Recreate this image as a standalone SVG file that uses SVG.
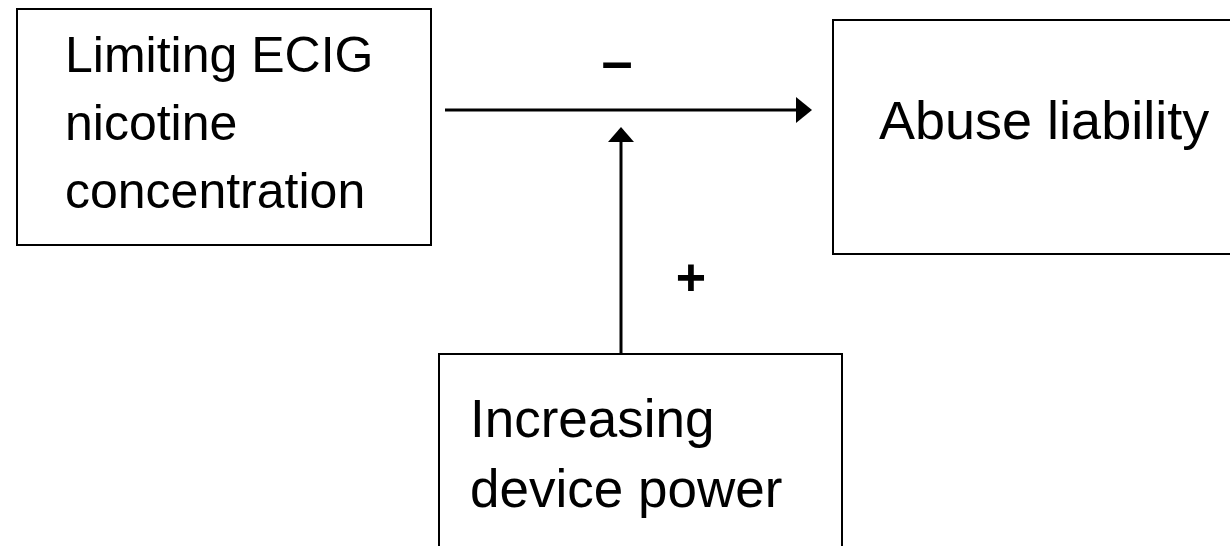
<svg xmlns="http://www.w3.org/2000/svg" width="1230" height="546" viewBox="0 0 1230 546">
<style>
.box{fill:#fff;stroke:#000;stroke-width:2}
.t{font-family:"Liberation Sans",Arial,sans-serif;fill:#000}
.c{stroke:#000;stroke-width:3;fill:none}
.s{font-family:"Liberation Sans",Arial,sans-serif;font-weight:bold;fill:#000;text-anchor:middle}
</style>
<rect x="0" y="0" width="1230" height="546" fill="#fff"/>
<g id="node-limiting">
<rect class="box" x="17" y="9" width="414" height="236"/>
<text class="t" font-size="50" x="65" y="72">Limiting ECIG</text>
<text class="t" font-size="50" x="65" y="140">nicotine</text>
<text class="t" font-size="50" x="65" y="208">concentration</text>
</g>
<g id="node-abuse">
<rect class="box" x="833" y="20" width="420" height="234"/>
<text class="t" font-size="54" x="879" y="139">Abuse liability</text>
</g>
<g id="node-power">
<rect class="box" x="439" y="354" width="403" height="220"/>
<text class="t" font-size="53" x="470" y="437">Increasing</text>
<text class="t" font-size="53" x="470" y="507">device power</text>
</g>
<g id="connectors">
<line class="c" x1="445" y1="110" x2="798" y2="110"/>
<polygon points="796,97 812,110 796,123" fill="#000"/>
<line class="c" x1="621" y1="354" x2="621" y2="140"/>
<polygon points="608,142 621,127 634,142" fill="#000"/>
<text class="s" font-size="56" x="617" y="80">–</text>
<text class="s" font-size="52" x="691" y="295">+</text>
</g>
</svg>
